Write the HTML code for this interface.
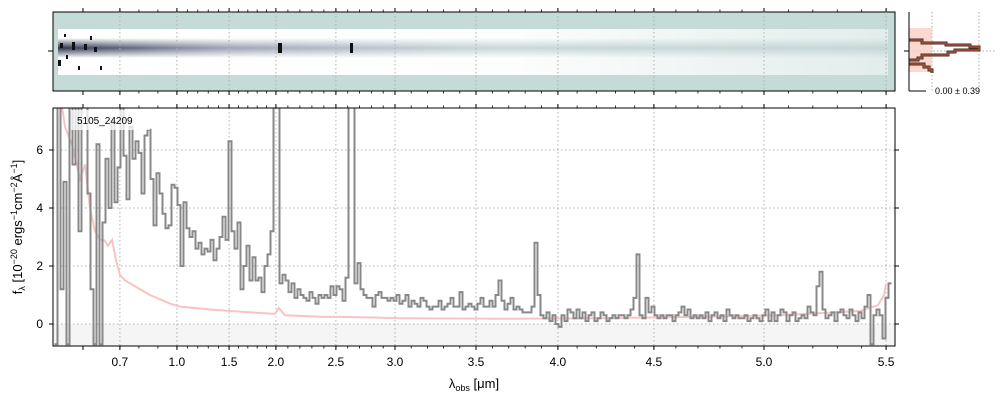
<!DOCTYPE html>
<html><head><meta charset="utf-8"><style>
html,body{margin:0;padding:0;background:#fff;}
svg{display:block;font-family:"Liberation Sans","DejaVu Sans",sans-serif;}
</style></head><body>
<svg id="fig" width="1000" height="400" viewBox="0 0 1000 400">
<defs>
<linearGradient id="bandFade" x1="0" x2="1" y1="0" y2="0">
<stop offset="0" stop-color="#fff" stop-opacity="1"/><stop offset="0.55" stop-color="#fff" stop-opacity="0.95"/><stop offset="0.8" stop-color="#fff" stop-opacity="0.7"/><stop offset="1" stop-color="#fff" stop-opacity="0.5"/></linearGradient>
<linearGradient id="traceFade" x1="0" x2="1" y1="0" y2="0">
<stop offset="0" stop-color="#1a1f3a" stop-opacity="0.9"/><stop offset="0.2" stop-color="#50587a" stop-opacity="0.55"/><stop offset="0.5" stop-color="#7d9aa0" stop-opacity="0.4"/><stop offset="1" stop-color="#8fb0b0" stop-opacity="0.35"/></linearGradient>
<linearGradient id="traceV" x1="0" x2="0" y1="0" y2="1">
<stop offset="0" stop-color="#fff" stop-opacity="0"/><stop offset="0.5" stop-color="#fff" stop-opacity="1"/><stop offset="1" stop-color="#fff" stop-opacity="0"/></linearGradient>
<mask id="traceMask"><rect x="53" y="38" width="842" height="20" fill="url(#traceV)"/></mask>
<clipPath id="mainClip"><rect x="53" y="108" width="842" height="238"/></clipPath>
</defs>
<g id="top2d">
<rect x="53" y="12" width="842" height="79" fill="#c5dbd8"/>
<rect x="58" y="29" width="830" height="46" fill="url(#bandFade)"/>
<rect x="58" y="38" width="830" height="20" fill="url(#traceFade)" mask="url(#traceMask)"/>
<g fill="#111">
<rect x="60" y="43" width="3" height="5"/><rect x="66" y="55" width="2" height="4"/><rect x="72" y="42" width="3" height="8"/><rect x="78" y="66" width="2" height="4"/><rect x="84" y="44" width="3" height="6"/><rect x="90" y="36" width="2" height="4"/><rect x="94" y="47" width="3" height="5"/><rect x="100" y="66" width="2" height="4"/><rect x="58" y="60" width="3" height="6"/><rect x="64" y="34" width="2" height="3"/>
</g>
<rect x="278" y="43" width="4" height="10" fill="#111"/>
<rect x="350" y="43" width="3" height="10" fill="#111"/>
<rect x="53" y="12" width="842" height="79" fill="none" stroke="#000" stroke-width="1"/>
<g id="topTicks"></g>
</g>
<g id="hist">
<line x1="932" y1="12" x2="932" y2="91" stroke="#aaa" stroke-dasharray="1.5,2"/>
<line x1="979" y1="12" x2="979" y2="91" stroke="#aaa" stroke-dasharray="1.5,2"/>
<line x1="909" y1="51" x2="995" y2="51" stroke="#aaa" stroke-dasharray="1.5,2"/>
<rect x="909" y="28" width="23" height="44" fill="#fbd0c4" opacity="0.8"/>
<path d="M909,40 H922 V43 H946 V45 H970 V47 H979 V50 H955 V52 H948 V55 H922 V58 H918 V60 H909 M909,64 H924 V67 H929 V70 H932 V73" fill="none" stroke="#4a2a20" stroke-width="3"/>
<path d="M909,40 H922 V43 H946 V45 H970 V47 H979 V50 H955 V52 H948 V55 H922 V58 H918 V60 H909 M909,64 H924 V67 H929 V70 H932 V73" fill="none" stroke="#c9604a" stroke-width="1"/>
<line x1="909" y1="12" x2="909" y2="91" stroke="#000"/>
<line x1="909" y1="91" x2="926" y2="91" stroke="#000"/>
<line x1="904" y1="51" x2="909" y2="51" stroke="#000"/>
<text x="935" y="94" font-size="9">0.00 ± 0.39</text>
</g>
<g id="main">
<rect x="53" y="324" width="842" height="22" fill="#f5f5f5"/>
<g id="grid"></g>
<g clip-path="url(#mainClip)">
<path id="modelLine" fill="none" stroke="#f9c3c3" stroke-width="2"/>
<path id="fluxLine" fill="none" stroke="#888" stroke-width="2"/>
</g>
<rect x="71" y="110" width="79" height="20" fill="#fff" opacity="0.75"/>
<text x="77" y="124" font-size="10">5105_24209</text>
<rect x="53" y="108" width="842" height="238" fill="none" stroke="#000"/>
<g id="mainTicks"></g>
<text x="474" y="388" font-size="13" text-anchor="middle">λ<tspan font-size="9" dy="3">obs</tspan><tspan dy="-3"> [μm]</tspan></text>
<text transform="translate(22,227) rotate(-90)" font-size="13" text-anchor="middle">f<tspan font-size="9" dy="3">λ</tspan><tspan dy="-3"> [10</tspan><tspan font-size="9" dy="-5">−20</tspan><tspan dy="5"> ergs</tspan><tspan font-size="9" dy="-5">−1</tspan><tspan dy="5">cm</tspan><tspan font-size="9" dy="-5">−2</tspan><tspan dy="5">Å</tspan><tspan font-size="9" dy="-5">−1</tspan><tspan dy="5">]</tspan></text>
</g>
</svg>
<script>
const tickWaves=[0.6,0.7,1.0,1.5,2.0,2.5,3.0,3.5,4.0,4.5,5.0,5.5];
const tickBins=[10,22.3,41.3,58.7,74.3,94.3,114,141,168.3,200.3,237,277.7];
const tickLabels=["","0.7","1.0","1.5","2.0","2.5","3.0","3.5","4.0","4.5","5.0","5.5"];
const yTicks=[0,2,4,6];
const flux=[-0.7,7.5,1.2,4.9,-0.7,7.5,5.5,7.5,3.2,7.5,7.5,4.5,1.2,-0.7,6.2,-0.7,3.5,5.7,4.0,7.0,4.2,5.4,7.5,5.8,4.3,6.8,5.7,6.3,5.9,4.5,6.5,6.7,5.0,3.4,5.2,4.5,3.8,3.3,3.4,4.8,4.7,4.1,2.0,4.2,3.3,3.0,3.2,2.6,2.8,2.4,2.6,2.5,2.9,2.2,2.6,3.0,3.7,2.9,6.3,3.2,2.6,3.5,1.2,2.0,2.7,1.5,2.3,1.5,1.6,1.1,2.0,2.4,3.2,7.5,7.5,1.4,1.7,1.5,1.1,1.4,0.9,1.2,1.0,0.9,0.8,1.1,0.9,0.7,1.0,
0.9,1.0,0.9,1.3,1.0,1.3,1.2,0.8,1.6,7.5,7.5,1.4,2.1,1.2,1.0,0.9,0.9,0.6,1.0,1.1,
0.9,0.9,0.8,0.9,0.8,1.0,0.7,0.8,1.0,0.6,0.8,0.7,0.6,0.9,0.8,0.6,0.5,0.6,0.6,0.8,0.5,0.6,0.7,0.9,0.6,0.6,1.1,0.5,0.6,0.7,0.6,0.5,0.7,0.9,0.6,0.6,0.8,0.6,1.0,1.5,0.8,0.5,0.7,0.9,0.5,0.6,0.5,0.4,0.4,0.4,0.6,2.8,1.0,
0.3,0.2,0.4,0.1,0.3,0.0,-0.1,0.3,0.1,0.5,0.4,0.2,0.5,0.2,0.4,0.1,0.3,0.4,0.1,0.2,0.4,0.3,0.1,0.2,0.3,0.2,0.3,0.3,0.2,0.3,0.5,0.9,2.4,0.3,0.2,0.9,0.4,0.6,
0.3,0.2,0.3,0.2,0.3,0.3,0.1,0.3,0.4,0.6,0.3,0.5,0.2,0.3,0.2,0.3,0.2,0.4,0.1,0.3,0.4,0.2,0.3,0.1,0.5,0.3,0.2,0.3,0.2,0.2,0.3,0.1,0.2,0.3,0.2,0.1,0.3,0.5,0.1,0.4,0.1,0.3,0.5,0.4,0.1,0.3,0.4,0.1,0.2,0.3,0.2,0.6,0.4,0.3,1.3,1.8,
0.5,0.2,0.3,0.4,0.1,0.4,0.5,0.3,0.2,0.5,0.3,0.1,0.4,0.2,0.6,1.0,-0.7,0.3,0.5,0.3,-0.5,0.9,1.4];
const modelBins=[3,4,6.3,9,10.7,12.3,14,15.7,17,18.3,19.7,21,22.3,24,25.7,29,32.3,35.7,39,42.3,47.3,52.3,59,69,74,75.3,77.3,89,99,115.7,149,182.3,215.7,242.3,269,275,277,277.7];
const modelVals=[7.5,6.8,6.2,5.0,5.5,4.0,3.2,2.9,2.9,2.7,2.9,2.2,1.7,1.5,1.4,1.2,1.0,0.85,0.7,0.6,0.55,0.5,0.45,0.38,0.35,0.55,0.3,0.25,0.24,0.2,0.18,0.2,0.25,0.3,0.45,0.65,1.0,1.4];

const NS="http://www.w3.org/2000/svg";
function xScale(b){return 53+3*b;}
function yScale(f){return 324-29*f;}
function waveToBin(w){
  for(let i=0;i<tickWaves.length-1;i++){
    if(w>=tickWaves[i]&&w<=tickWaves[i+1]){
      const t=(w-tickWaves[i])/(tickWaves[i+1]-tickWaves[i]);
      return tickBins[i]+t*(tickBins[i+1]-tickBins[i]);
    }
  }
  return null;
}
function mk(tag,attrs,parent){const e=document.createElementNS(NS,tag);for(const k in attrs)e.setAttribute(k,attrs[k]);parent.appendChild(e);return e;}

let d="";
flux.forEach((f,k)=>{const b=k+1;const x0=xScale(b-0.5),x1=xScale(b+0.5),y=yScale(Math.max(-0.8,Math.min(7.6,f)));d+=(k===0?"M":"L")+x0+","+y+" L"+x1+","+y+" ";});
document.getElementById("fluxLine").setAttribute("d",d);
let dm="";
modelBins.forEach((b,i)=>{dm+=(i===0?"M":"L")+xScale(b)+","+yScale(modelVals[i])+" ";});
document.getElementById("modelLine").setAttribute("d",dm);

const grid=document.getElementById("grid"),mt=document.getElementById("mainTicks"),tt=document.getElementById("topTicks");
tickWaves.forEach((w,i)=>{
  const x=xScale(tickBins[i]);
  if(tickLabels[i]){
    const g=mk("line",{x1:x,y1:108,x2:x,y2:346,stroke:"#b0b0b0","stroke-dasharray":"1.5,2.5"},grid);
    
    
    const t=mk("text",{x:x,y:366,"font-size":"12","text-anchor":"middle"},mt);
    t.textContent=tickLabels[i];
    
    
    const g2=mk("line",{x1:x,y1:12,x2:x,y2:91,stroke:"#b0b0b0","stroke-dasharray":"1.5,2.5"},tt);
    
    
  }
  [[346,350],[108,104],[91,95],[12,8]].forEach(p=>{
    const l=mk("line",{x1:x,y1:p[0],x2:x,y2:p[1],stroke:"#000"},p[0]>100?mt:tt);
    
    
  });
});
for(let w=0.6;w<=5.51;w+=0.1){
  const b=waveToBin(Math.round(w*10)/10);if(b===null)continue;const x=xScale(b);
  [[346,348.5],[108,105.5],[91,93.5],[12,9.5]].forEach(p=>{
    const l=mk("line",{x1:x,y1:p[0],x2:x,y2:p[1],stroke:"#000","stroke-width":"0.8"},p[0]>100?mt:tt);
    
    
  });
}
yTicks.forEach(v=>{
  const y=yScale(v);
  const g=mk("line",{x1:53,y1:y,x2:895,y2:y,stroke:"#b0b0b0","stroke-dasharray":"1.5,2.5"},grid);
  
  
  const t=mk("text",{x:43,y:y+4,"font-size":"12","text-anchor":"end"},mt);
  t.textContent=String(v);
  
  
  [[53,49],[895,899]].forEach(p=>{
    const l=mk("line",{x1:p[0],y1:y,x2:p[1],y2:y,stroke:"#000"},mt);
    
    
  });
});
const lt=mk("line",{x1:48,y1:51,x2:53,y2:51,stroke:"#000"},tt);


</script>
</body></html>
